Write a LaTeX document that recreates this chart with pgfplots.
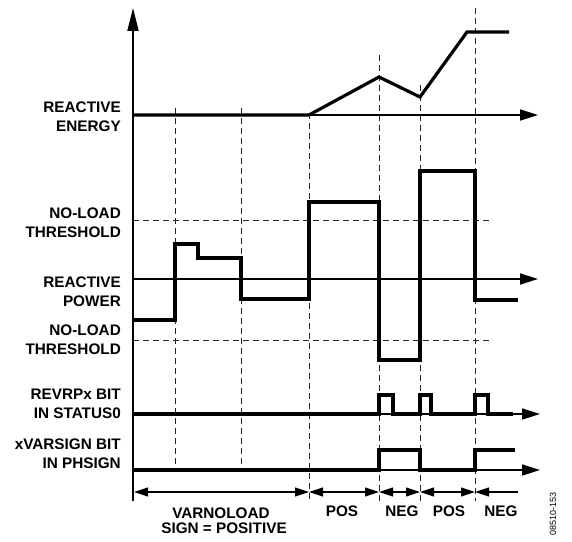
\documentclass[border=0pt]{standalone}
\usepackage{pgfplots}
\pgfplotsset{compat=1.18}
\usetikzlibrary{arrows.meta}
\usepackage{fontspec}
\setmainfont{Liberation Sans}
\tikzset{
  sig/.style={line width=3.2bp, line join=miter},
  ax/.style={line width=1.7bp, -{Triangle[length=18bp,width=11bp]}},
  dsh/.style={line width=1bp, dash pattern=on 6bp off 4bp, black!85},
  barr/.style={line width=1.1bp, {Triangle[length=14bp,width=9bp]}-{Triangle[length=14bp,width=9bp]}},
  lab/.style={font=\fontsize{15.3bp}{19bp}\selectfont\bfseries, align=right, anchor=east, inner sep=0pt},
  blab/.style={font=\fontsize{15.3bp}{15bp}\selectfont\bfseries, inner sep=0pt},
}
\begin{document}
\begin{tikzpicture}
\useasboundingbox (0,0) rectangle (572bp,542bp);
\begin{axis}[
  at={(0,0)}, anchor=south west,
  scale only axis, width=572bp, height=542bp,
  xmin=0, xmax=572, ymin=0, ymax=542, y dir=reverse,
  hide axis, clip=false,
  every axis plot/.append style={mark=none, black},
]
% dashed vertical guides
\addplot[dsh] coordinates {(175,108) (175,470)};
\addplot[dsh] coordinates {(241,108) (241,470)};
\addplot[dsh] coordinates {(309,113) (309,501)};
\addplot[dsh] coordinates {(379,55) (379,501)};
\addplot[dsh] coordinates {(420,85) (420,501)};
\addplot[dsh] coordinates {(475,8) (475,501)};
% no-load thresholds
\addplot[dsh] coordinates {(133,220) (493,220)};
\addplot[dsh] coordinates {(133,340) (493,340)};
% axes
\addplot[line width=2bp, -{Triangle[length=23bp,width=11bp]}] coordinates {(133,501) (133,8)};
\addplot[ax] coordinates {(133,115) (538,115)};
\addplot[ax] coordinates {(133,279) (538,279)};
\addplot[ax] coordinates {(133,414) (540,414)};
\addplot[ax] coordinates {(133,470) (540,470)};
% reactive energy
\addplot[sig] coordinates {(133,115) (309,115) (379,77) (420,97) (467,32) (509,32)};
% reactive power
\addplot[sig] coordinates {(133,320) (175,320) (175,244) (198,244) (198,258) (241,258) (241,299) (309,299) (309,202) (379,202) (379,360) (420,360) (420,171) (475,171) (475,300) (518,300)};
% REVRPx bit
\addplot[sig] coordinates {(133,414) (379,414) (379,395) (393,395) (393,414) (420,414) (420,395) (431,395) (431,414) (475,414) (475,395) (488,395) (488,414) (513,414)};
% xVARSIGN bit
\addplot[sig] coordinates {(133,470) (379,470) (379,450) (420,450) (420,470) (475,470) (475,450) (515,450)};
% bottom interval arrows
\addplot[barr] coordinates {(134,492) (309,492)};
\addplot[barr] coordinates {(309,492) (379,492)};
\addplot[barr] coordinates {(379,492) (420,492)};
\addplot[barr] coordinates {(420,492) (475,492)};
\addplot[line width=1.1bp, {Triangle[length=14bp,width=9bp]}-] coordinates {(475,492) (518,492)};
% labels
\node[lab] at (axis cs:121,116.5) {REACTIVE\\ENERGY};
\node[lab] at (axis cs:121,223) {NO-LOAD\\THRESHOLD};
\node[lab] at (axis cs:121,291.5) {REACTIVE\\POWER};
\node[lab] at (axis cs:121,339.5) {NO-LOAD\\THRESHOLD};
\node[lab] at (axis cs:121,404) {REVRPx BIT\\IN STATUS0};
\node[lab] at (axis cs:121,454) {xVARSIGN BIT\\IN PHSIGN};
\node[blab] at (axis cs:221,513) {VARNOLOAD};
\node[blab] at (axis cs:224,528) {SIGN = POSITIVE};
\node[blab] at (axis cs:342,511) {POS};
\node[blab] at (axis cs:402,511) {NEG};
\node[blab] at (axis cs:449,511) {POS};
\node[blab] at (axis cs:501,511) {NEG};
\node[font=\fontsize{9bp}{9bp}\selectfont, rotate=90, inner sep=0pt] at (axis cs:553,514) {08510-153};
\end{axis}
\end{tikzpicture}
\end{document}
